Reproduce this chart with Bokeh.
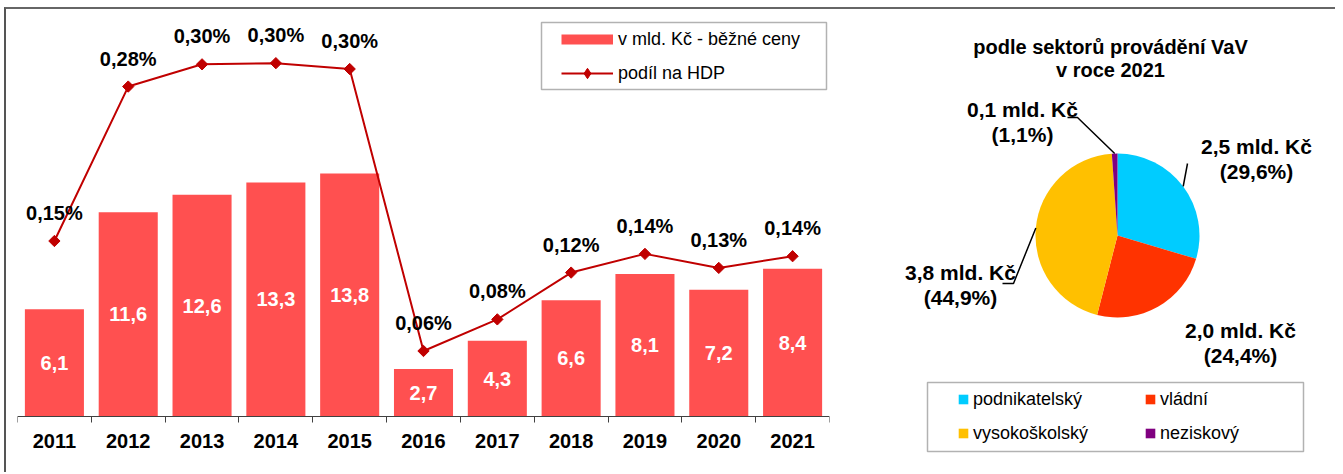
import math
from bokeh.plotting import figure
from bokeh.models import (Range1d, LinearAxis, FixedTicker, ColumnDataSource,
                          Legend, LegendItem, BoxAnnotation)
from bokeh.layouts import row
from bokeh.core.properties import value
from bokeh.embed import file_html
from bokeh.resources import INLINE

# ---------------- data ----------------
years = ["2011", "2012", "2013", "2014", "2015", "2016", "2017", "2018", "2019", "2020", "2021"]
spend_bn = [6.1, 11.6, 12.6, 13.3, 13.8, 2.7, 4.3, 6.6, 8.1, 7.2, 8.4]
gdp_share = [0.150, 0.282, 0.301, 0.302, 0.297, 0.056, 0.083, 0.123, 0.139, 0.127, 0.137]
series_names = ["v mld. Kč - běžné ceny", "podíl na HDP"]

pie_title = ["podle sektorů provádění VaV", "v roce 2021"]
sectors = ["podnikatelský", "vládní", "vysokoškolský", "neziskový"]
sector_bn = [2.5, 2.0, 3.8, 0.1]
sector_pct = [29.6, 24.4, 44.9, 1.1]

# ---------------- styles / layout ----------------
FONT = "Liberation Sans"
BAR_COLOR = "#FF5050"
LINE_COLOR = "#C00000"
SECTOR_COLORS = ["#00CCFF", "#FF3300", "#FFC000", "#800080"]
AXIS_COLOR = "#404040"

OX, OY = 6, 9                 # page position of the figures' top-left corner
W1, W2, H = 847, 482, 463
FL, FR, FT, FB = 11, 24, 11, 8
FW, FH = W1 - FL - FR, H - FT - FB
FRAME_BOTTOM = OY + H - FB    # page y of the frames' bottom edge
BASE = 416                    # page y of the value axis zero
YPX = 17.6                    # pixels per mld. Kč
HPX = 1170.0                  # pixels per 1 % of GDP


def cz(v, d):
    return f"{v:.{d}f}".replace(".", ",")


# ---------------- left: bars + line ----------------
n = len(years)
xs = [i + 1 for i in range(n)]
y_lo = -(FRAME_BOTTOM - BASE) / YPX
y_hi = (BASE - (OY + FT)) / YPX
p = figure(width=W1, height=H, x_range=Range1d(0.5, n + 0.5), y_range=Range1d(y_lo, y_hi),
           x_axis_location=None, y_axis_location=None,
           output_backend="svg", toolbar_location=None,
           min_border_left=FL, min_border_right=FR, min_border_top=FT, min_border_bottom=FB)
p.extra_y_ranges = {"hdp": Range1d(y_lo * YPX / HPX, y_hi * YPX / HPX)}
p.xgrid.visible = False
p.ygrid.visible = False
p.outline_line_color = None

src = ColumnDataSource(dict(
    x=xs, spend=spend_bn, half=[v / 2 for v in spend_bn],
    spend_lbl=[cz(v, 1) for v in spend_bn],
    gdp=gdp_share, gdp_lbl=[cz(v, 2) + "%" for v in gdp_share],
))

p.vbar(x="x", top="spend", bottom=0, width=0.8, fill_color=BAR_COLOR, line_color=None,
       source=src)
p.text(x="x", y="half", text="spend_lbl", source=src, text_color="white",
       text_font=value(FONT), text_font_style="bold", text_font_size="20px",
       text_align="center", text_baseline="middle")
ln = p.line("x", "gdp", y_range_name="hdp", line_color=LINE_COLOR, line_width=2, source=src)
mk = p.scatter("x", "gdp", y_range_name="hdp", marker="square", angle=math.pi / 4, size=8,
               fill_color=LINE_COLOR, line_color=LINE_COLOR, source=src)
p.text(x="x", y="gdp", text="gdp_lbl", y_range_name="hdp", y_offset=-28, source=src,
       text_color="black", text_font=value(FONT), text_font_style="bold",
       text_font_size="20px", text_align="center", text_baseline="middle")

xaxis = LinearAxis(
    fixed_location=0,
    ticker=FixedTicker(ticks=xs, minor_ticks=[i + 0.5 for i in range(n + 1)]),
    major_label_overrides={x: y for x, y in zip(xs, years)},
    axis_line_color=AXIS_COLOR, axis_line_width=1,
    major_tick_line_color=None, major_tick_out=6, major_tick_in=0,
    minor_tick_line_color=AXIS_COLOR, minor_tick_out=6, minor_tick_in=0,
    major_label_standoff=11, major_label_text_font=FONT,
    major_label_text_font_style="bold", major_label_text_font_size="20px",
    major_label_text_color="black",
)
p.add_layout(xaxis, "below")


def bx(page_x):   # page pixel -> bar-chart x data
    return 0.5 + (page_x - OX - FL) / FW * n


def by(page_y):   # page pixel -> bar-chart y data
    return (BASE - page_y) / YPX


# legend of the left chart
bar_key = p.line(x=[float("nan")], y=[float("nan")], line_color=BAR_COLOR, line_width=10)
dia_key = p.scatter(x=[float("nan")], y=[float("nan")], marker="diamond",
                    fill_color=LINE_COLOR, line_color=LINE_COLOR)
p.add_layout(BoxAnnotation(left=bx(541), right=bx(826), top=by(22), bottom=by(89),
                           fill_alpha=0, line_color="black", line_width=1.5))
LROW, LGAP = 26, 8
leg = Legend(items=[LegendItem(label=series_names[0], renderers=[bar_key]),
                    LegendItem(label=series_names[1], renderers=[ln, dia_key])],
             location=(561 - OX - FL, FRAME_BOTTOM - (73 + LROW / 2)),
             padding=0, margin=0, border_line_color=None, background_fill_alpha=0,
             glyph_width=52, glyph_height=LROW, label_height=LROW, spacing=LGAP,
             label_standoff=5, label_text_font=FONT, label_text_font_size="18px",
             label_text_color="black")
p.add_layout(leg)

# ---------------- right: pie ----------------
PX0 = OX + W1    # page x of the pie figure's left edge
q = figure(width=W2, height=H, x_range=Range1d(0, W2), y_range=Range1d(FB, H - FT),
           x_axis_location=None, y_axis_location=None,
           output_backend="svg", toolbar_location=None,
           min_border_left=0, min_border_right=0, min_border_top=FT, min_border_bottom=FB)
q.xgrid.visible = False
q.ygrid.visible = False
q.outline_line_color = None


def qx(page_x):
    return page_x - PX0


def qy(page_y):
    return H - (page_y - OY)


CX, CY, R = qx(1117), qy(235), 82
cum = [sum(sector_pct[:i]) for i in range(len(sector_pct))]
starts = [math.pi / 2 - 2 * math.pi * c / 100 for c in cum]
ends = [math.pi / 2 - 2 * math.pi * (c + s) / 100 for c, s in zip(cum, sector_pct)]
mids = [math.pi / 2 - 2 * math.pi * (c + s / 2) / 100 for c, s in zip(cum, sector_pct)]
psrc = ColumnDataSource(dict(x=[CX] * len(sectors), y=[CY] * len(sectors), start=starts,
                             end=ends, color=SECTOR_COLORS, name=sectors))
wr = q.wedge(x="x", y="y", radius=R, radius_units="screen", start_angle="start",
             end_angle="end", direction="clock", fill_color="color", line_color=None,
             source=psrc)

# title
q.text(x=[qx(1110)] * 2, y=[qy(46), qy(69)], text=pie_title, text_color="black",
       text_font=value(FONT), text_font_style="bold", text_font_size="20px",
       text_align="center", text_baseline="middle")

# slice labels (layout: page x centre, page y of first line)
lab_pos = [(1256, 146), (1240, 330), (960, 272), (1022, 109)]
lx, ly, lt = [], [], []
for (x0, y0), b, s in zip(lab_pos, sector_bn, sector_pct):
    lx += [qx(x0), qx(x0)]
    ly += [qy(y0), qy(y0 + 25)]
    lt += [f"{cz(b, 1)} mld. Kč", f"({cz(s, 1)}%)"]
q.text(x=lx, y=ly, text=lt, text_color="black", text_font=value(FONT),
       text_font_style="bold", text_font_size="21px", text_align="center",
       text_baseline="middle")

# leader lines: from the rim at the slice's mid-angle to layout points
leader_pts = {0: [(1187, 163)], 2: [(1013, 283), (1002, 283)],
              3: [(1077, 117), (1067, 117)]}
mx, my = [], []
for i, pts in leader_pts.items():
    mx.append([CX + R * math.cos(mids[i])] + [qx(a) for a, _ in pts])
    my.append([CY + R * math.sin(mids[i])] + [qy(b) for _, b in pts])
q.multi_line(xs=mx, ys=my, line_color="black", line_width=1.5)

# pie legend
q.add_layout(BoxAnnotation(left=qx(927), right=qx(1303), top=qy(382), bottom=qy(451),
                           fill_alpha=0, line_color="black", line_width=1.5))
PROW, PGAP = 22, 12
order = [0, 2, 1, 3]
pleg = Legend(items=[LegendItem(label=sectors[i], renderers=[wr], index=i) for i in order],
              orientation="vertical", nrows=2,
              location=(qx(957), FRAME_BOTTOM - (433 + PROW / 2)),
              padding=0, margin=0, border_line_color=None, background_fill_alpha=0,
              glyph_width=12, glyph_height=12, label_height=PROW, label_width=159,
              spacing=PGAP, label_standoff=4, label_text_font=FONT,
              label_text_font_size="18px", label_text_color="black")
q.add_layout(pleg)

layout = row(p, q, styles={"margin-left": "4px", "margin-top": "7px",
                           "border-top": "2px solid #666", "border-left": "2px solid #555"})
open("out.html", "w").write(file_html(layout, INLINE))
